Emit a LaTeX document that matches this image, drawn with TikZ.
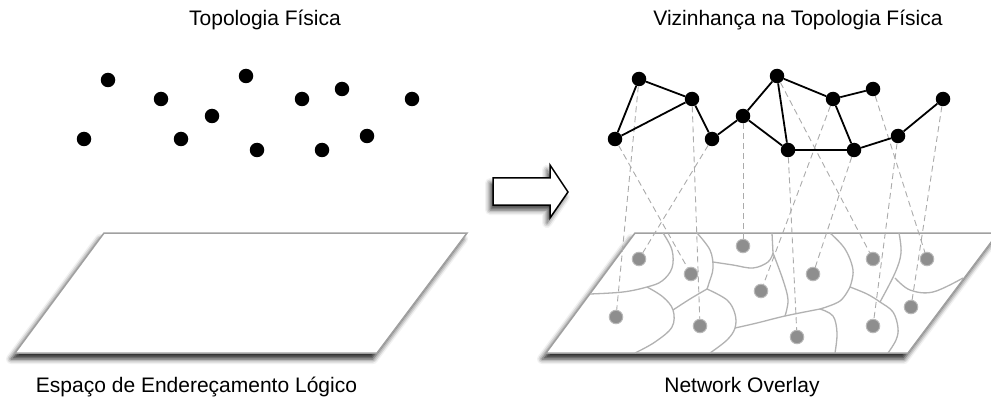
\documentclass[tikz,border=0pt]{standalone}
\usepackage{fontspec}
\setmainfont{Liberation Sans}
\usetikzlibrary{shadows.blur}
\definecolor{vline}{HTML}{B2B2B2}
\definecolor{dline}{HTML}{ABABAB}
\definecolor{gfill}{HTML}{8E8E8E}
\definecolor{gring}{HTML}{B8B8B8}
\definecolor{pedge}{HTML}{A0A0A0}
\tikzset{
  bdot/.style={circle,fill=black,inner sep=0pt,minimum size=14.5pt},
  gdot/.style={circle,fill=gfill,draw=gring,line width=1pt,inner sep=0pt,minimum size=13.5pt},
  link/.style={line width=1.8pt,black},
  proj/.style={dline,line width=0.9pt,dash pattern=on 6pt off 4pt},
  cell/.style={vline,line width=1.3pt,line join=round},
  plane/.style={fill=white,draw=pedge,line width=1.5pt,line join=miter,
    blur shadow={shadow xshift=-4pt,shadow yshift=-6pt,shadow blur radius=5pt,shadow opacity=85}},
  blockarrow/.style={fill=white,draw=black,line width=1.5pt,line join=miter,
    blur shadow={shadow xshift=-3pt,shadow yshift=-5pt,shadow blur radius=5pt,shadow opacity=75}},
  title/.style={anchor=base,inner sep=0pt,font=\fontsize{21}{25}\selectfont}
}
\begin{document}
\begin{tikzpicture}[x=1pt,y=-1pt]
\useasboundingbox (0,0) rectangle (991,401);

% titles
\node[title] (t1) at (265,26) {Topologia Física};
\node[title] (t2) at (798,26) {Vizinhança na Topologia Física};
\node[title] (t3) at (196.5,392) {Espaço de Endereçamento Lógico};
\node[title] (t4) at (742,392) {Network Overlay};

% planes
\path[plane] (104,233) -- (467,233) -- (377,353) -- (15,353) -- cycle;
\path[plane] (635,233) -- (998,233) -- (908,353) -- (546,353) -- cycle;

% block arrow
\path[blockarrow] (493,178) -- (550,178) -- (550,165) -- (568,192) -- (550,218) -- (550,205) -- (493,205) -- cycle;

% left physical topology
\foreach \n/\x/\y in {a/108/80,b/161/99,c/84/139,d/181/139,e/212/116,f/246/76,g/302/99,h/342/89,i/412/99,j/257/150,k/322/150,l/367/136}
  \node[bdot] (L\n) at (\x,\y) {};

% Voronoi cells
\draw[cell] plot[smooth,tension=0.6] coordinates {(663,233) (672,250) (672,268) (662,281) (647,287) (623,292) (590,294)};
\draw[cell] plot[smooth,tension=0.6] coordinates {(647,287) (663,297) (673,310) (672,327) (655,342) (635,353)};
\draw[cell] plot[smooth,tension=0.6] coordinates {(673,310) (690,299) (707,289)};
\draw[cell] plot[smooth,tension=0.6] coordinates {(697,233) (710,250) (713,268) (709,283) (707,289)};
\draw[cell] plot[smooth,tension=0.6] coordinates {(713,262) (733,265) (753,268) (768,262) (773,253)};
\draw[cell] plot[smooth,tension=0.6] coordinates {(772,233) (773,253)};
\draw[cell] plot[smooth,tension=0.6] coordinates {(707,289) (727,300) (735,314) (735,328) (727,340) (710,353)};
\draw[cell] plot[smooth,tension=0.6] coordinates {(735,328) (757,323) (785,316) (820,309)};
\draw[cell] plot[smooth,tension=0.6] coordinates {(773,253) (783,280) (788,300) (785,316)};
\draw[cell] plot[smooth,tension=0.6] coordinates {(820,309) (833,316) (837,333) (835,353)};
\draw[cell] plot[smooth,tension=0.6] coordinates {(820,309) (840,301) (850,287)};
\draw[cell] plot[smooth,tension=0.6] coordinates {(830,233) (845,249) (853,270) (850,287)};
\draw[cell] plot[smooth,tension=0.6] coordinates {(850,287) (867,294) (880,302) (893,312) (898,328) (896,340) (888,353)};
\draw[cell] plot[smooth,tension=0.6] coordinates {(899,233) (901,253) (895,273) (880,302)};
\draw[cell] plot[smooth,tension=0.6] coordinates {(895,278) (910,290) (933,292) (963,278)};

% overlay (logical) nodes
\foreach \n/\x/\y in {a/616/317,b/700/326,c/691/274,d/639/259,e/743/246,f/873/259,g/761/291,h/927/259,i/911/307,j/797/337,k/813/274,l/873/326}
  \node[gdot] (O\n) at (\x,\y) {};

% physical nodes (right)
\foreach \n/\x/\y in {a/639/79,b/692/99,c/615/139,d/712/139,e/743/116,f/777/76,g/833/99,h/873/89,i/943/99,j/788/150,k/854/150,l/898/136}
  \node[bdot] (P\n) at (\x,\y) {};

% projections
\foreach \n in {a,b,c,d,e,f,g,h,i,j,k,l}
  \draw[proj] (P\n) -- (O\n);

% physical links
\draw[link] (Pa) -- (Pb);
\draw[link] (Pa) -- (Pc);
\draw[link] (Pc) -- (Pb);
\draw[link] (Pb) -- (Pd);
\draw[link] (Pd) -- (Pe);
\draw[link] (Pe) -- (Pf);
\draw[link] (Pe) -- (Pj);
\draw[link] (Pf) -- (Pj);
\draw[link] (Pf) -- (Pg);
\draw[link] (Pg) -- (Ph);
\draw[link] (Pg) -- (Pk);
\draw[link] (Pj) -- (Pk);
\draw[link] (Pk) -- (Pl);
\draw[link] (Pl) -- (Pi);
\end{tikzpicture}
\end{document}
